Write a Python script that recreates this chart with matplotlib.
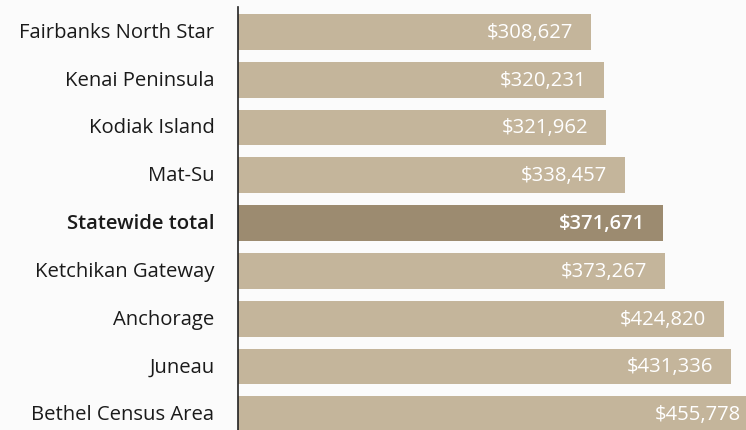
import matplotlib.pyplot as plt

plt.rcParams['font.family'] = ['Open Sans', 'DejaVu Sans']

# Median home price by borough / census area
areas = ['Fairbanks North Star', 'Kenai Peninsula', 'Kodiak Island', 'Mat-Su',
         'Statewide total', 'Ketchikan Gateway', 'Anchorage', 'Juneau',
         'Bethel Census Area']
prices = [308627, 320231, 321962, 338457, 371671, 373267, 424820, 431336, 455778]
highlight = 'Statewide total'

bar_color = '#c4b59b'
hl_color = '#9c8b70'
bg = '#fbfbfb'

fig = plt.figure(figsize=(7.46, 4.31), dpi=100, facecolor=bg)
ax = fig.add_axes([238 / 746, 0, 1 - 238 / 746, 1 - 8 / 431])
ax.set_facecolor(bg)

xmax = 444500
ypos = list(range(len(areas)))
colors = [hl_color if a == highlight else bar_color for a in areas]
ax.barh(ypos, prices, height=0.75, color=colors, left=0)

ax.set_xlim(0, xmax)
ax.set_ylim(8.33, -0.52)

for y, a, v in zip(ypos, areas, prices):
    bold = a == highlight
    if v > xmax:
        xv, off = xmax, -4
    else:
        xv, off = v, -12.5
    ax.annotate(f'${v:,}', (xv, y), xytext=(off, 0), textcoords='offset points',
                ha='right', va='center', color='white', fontsize=14.6,
                fontweight='semibold' if bold else 'normal')
    ax.annotate(a, (0, y), xytext=(-17, 0), textcoords='offset points',
                ha='right', va='center', color='#1a1a1a', fontsize=14.6,
                fontweight='semibold' if bold else 'normal', annotation_clip=False)

ax.set_xticks([])
ax.set_yticks([])
for s in ['top', 'right', 'bottom']:
    ax.spines[s].set_visible(False)
ax.spines['left'].set_color('#222222')
ax.spines['left'].set_linewidth(1.2)

fig.savefig('out.png', dpi=100, facecolor=bg)
